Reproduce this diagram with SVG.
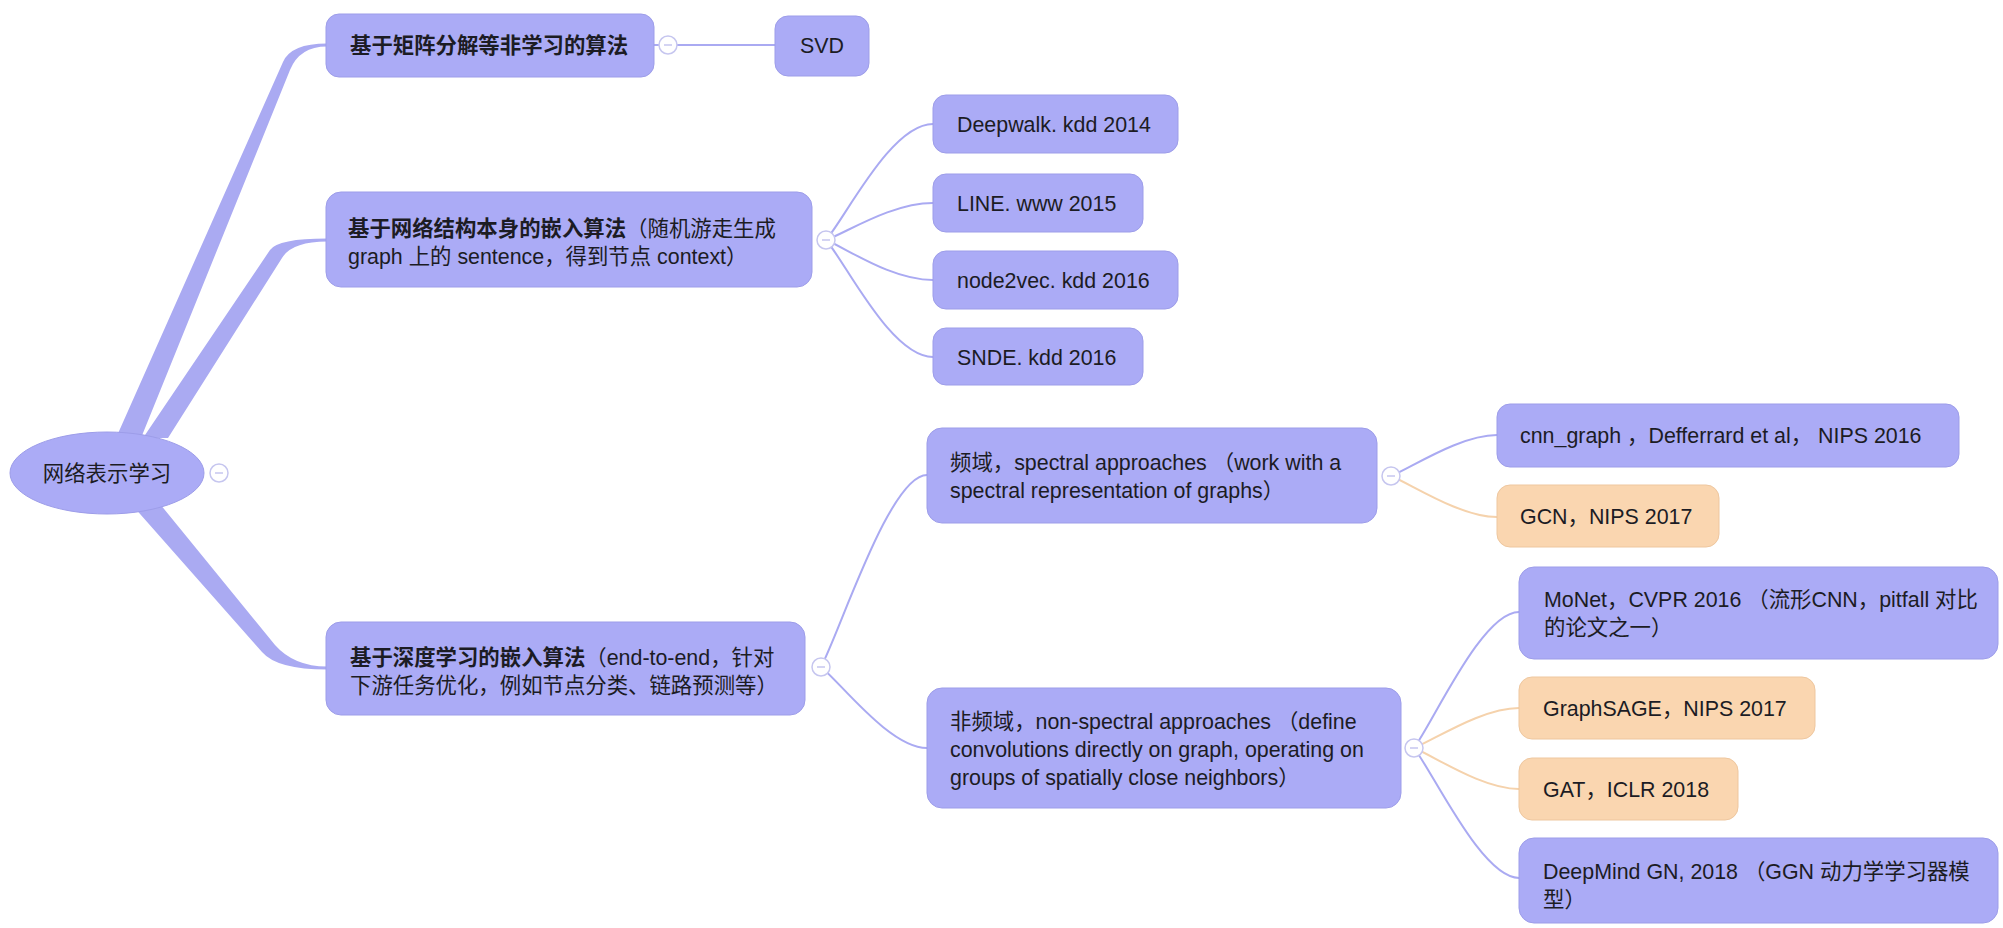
<svg xmlns="http://www.w3.org/2000/svg" width="2003" height="928" viewBox="0 0 2003 928">
<style>
.bg{fill:#ffffff}
.node{fill:#ABABF6;stroke:#9D9DE9;stroke-width:1}
.org{fill:#FAD6B0;stroke:#EEC79F;stroke-width:1}
.t{font-family:"Liberation Sans","Noto Sans CJK SC",sans-serif;font-size:21.4px;fill:#1c1c24}
.b{font-weight:bold}
.link{fill:none;stroke:#AAAAF2;stroke-width:2}
.link.o{stroke:#F5D2AC}
.trunk{fill:#AAAAF2}
.tg{fill:#ffffff;stroke:#C6C6EF;stroke-width:1.5}
.tgl{stroke:#C6C6EF;stroke-width:1.5}
</style>
<rect class="bg" x="0" y="0" width="2003" height="928"/>

<g id="connectors">
  <path class="trunk" d="M 116 438 L 283 62 Q 291 43.5 327 43.5 L 327 46.5 Q 299.5 46.5 290 70 L 141 438 Z"/>
  <path class="trunk" d="M 143 438 L 270 250 Q 278 238.5 327 238.5 L 327 241.5 Q 292 241.5 282 258 L 168 438 Z"/>
  <path class="trunk" d="M 133 506 L 262 652 Q 277 669.5 327 669.5 L 327 666.5 Q 294 666.5 275 645 L 160 504 Z"/>
  <path class="link" d="M 654 45 L 775 45"/>
  <path class="link" d="M 826 240 C 846 217, 891 124, 933 124"/>
  <path class="link" d="M 826 240 C 846 233, 891 203, 933 203"/>
  <path class="link" d="M 826 240 C 846 248, 891 280, 933 280"/>
  <path class="link" d="M 826 240 C 846 263, 891 357, 933 357"/>
  <path class="link" d="M 821 667 C 841 629, 890 475, 927 475"/>
  <path class="link" d="M 821 667 C 841 683, 890 748, 927 748"/>
  <path class="link" d="M 1391 476 C 1411 468, 1460 435, 1497 435"/>
  <path class="link o" d="M 1391 476 C 1411 484, 1460 517, 1497 517"/>
  <path class="link" d="M 1414 748 C 1434 721, 1482 612, 1519 612"/>
  <path class="link o" d="M 1414 748 C 1434 740, 1482 708, 1519 708"/>
  <path class="link o" d="M 1414 748 C 1434 756, 1482 789, 1519 789"/>
  <path class="link" d="M 1414 748 C 1434 774, 1482 878, 1519 878"/>
</g>

<g id="n-root">
  <ellipse class="node" cx="107" cy="473" rx="97" ry="41"/>
  <text class="t" x="107" y="481" text-anchor="middle">网络表示学习</text>
  <circle class="tg" cx="219" cy="473" r="9"/>
  <line class="tgl" x1="215" y1="473" x2="223" y2="473"/>
</g>

<g id="n-matrix">
  <rect class="node" x="326" y="14" width="328" height="63" rx="13"/>
  <text class="t b" x="350" y="53">基于矩阵分解等非学习的算法</text>
  <circle class="tg" cx="668" cy="45" r="9"/>
  <line class="tgl" x1="664" y1="45" x2="672" y2="45"/>
</g>

<g id="n-svd">
  <rect class="node" x="775" y="16" width="94" height="60" rx="13"/>
  <text class="t" x="822" y="53" text-anchor="middle">SVD</text>
</g>

<g id="n-walk">
  <rect class="node" x="326" y="192" width="486" height="95" rx="15"/>
  <text class="t" x="348" y="236"><tspan class="b">基于网络结构本身的嵌入算法</tspan>（随机游走生成</text>
  <text class="t" x="348" y="264">graph 上的 sentence，得到节点 context）</text>
  <circle class="tg" cx="826" cy="240" r="9"/>
  <line class="tgl" x1="822" y1="240" x2="830" y2="240"/>
</g>

<g id="n-deepwalk">
  <rect class="node" x="933" y="95" width="245" height="58" rx="13"/>
  <text class="t" x="957" y="132">Deepwalk. kdd 2014</text>
</g>
<g id="n-line">
  <rect class="node" x="933" y="174" width="210" height="58" rx="13"/>
  <text class="t" x="957" y="211">LINE. www 2015</text>
</g>
<g id="n-node2vec">
  <rect class="node" x="933" y="251" width="245" height="58" rx="13"/>
  <text class="t" x="957" y="288">node2vec. kdd 2016</text>
</g>
<g id="n-snde">
  <rect class="node" x="933" y="328" width="210" height="57" rx="13"/>
  <text class="t" x="957" y="365">SNDE. kdd 2016</text>
</g>

<g id="n-deep">
  <rect class="node" x="326" y="622" width="479" height="93" rx="15"/>
  <text class="t" x="350" y="665"><tspan class="b">基于深度学习的嵌入算法</tspan>（end-to-end，针对</text>
  <text class="t" x="350" y="693">下游任务优化，例如节点分类、链路预测等）</text>
  <circle class="tg" cx="821" cy="667" r="9"/>
  <line class="tgl" x1="817" y1="667" x2="825" y2="667"/>
</g>

<g id="n-spectral">
  <rect class="node" x="927" y="428" width="450" height="95" rx="15"/>
  <text class="t" x="950" y="470">频域，spectral approaches （work with a</text>
  <text class="t" x="950" y="498">spectral representation of graphs）</text>
  <circle class="tg" cx="1391" cy="476" r="9"/>
  <line class="tgl" x1="1387" y1="476" x2="1395" y2="476"/>
</g>

<g id="n-nonspectral">
  <rect class="node" x="927" y="688" width="474" height="120" rx="15"/>
  <text class="t" x="950" y="729">非频域，non-spectral approaches （define</text>
  <text class="t" x="950" y="757">convolutions directly on graph, operating on</text>
  <text class="t" x="950" y="785">groups of spatially close neighbors）</text>
  <circle class="tg" cx="1414" cy="748" r="9"/>
  <line class="tgl" x1="1410" y1="748" x2="1418" y2="748"/>
</g>

<g id="n-cnn">
  <rect class="node" x="1497" y="404" width="462" height="63" rx="13"/>
  <text class="t" x="1520" y="443">cnn_graph ，Defferrard et al， NIPS 2016</text>
</g>
<g id="n-gcn">
  <rect class="org" x="1497" y="485" width="222" height="62" rx="13"/>
  <text class="t" x="1520" y="524">GCN，NIPS 2017</text>
</g>
<g id="n-monet">
  <rect class="node" x="1519" y="567" width="479" height="92" rx="15"/>
  <text class="t" x="1544" y="607">MoNet，CVPR 2016 （流形CNN，pitfall 对比</text>
  <text class="t" x="1544" y="635">的论文之一）</text>
</g>
<g id="n-graphsage">
  <rect class="org" x="1519" y="677" width="296" height="62" rx="13"/>
  <text class="t" x="1543" y="716">GraphSAGE，NIPS 2017</text>
</g>
<g id="n-gat">
  <rect class="org" x="1519" y="758" width="219" height="62" rx="13"/>
  <text class="t" x="1543" y="797">GAT，ICLR 2018</text>
</g>
<g id="n-deepmind">
  <rect class="node" x="1519" y="838" width="479" height="85" rx="15"/>
  <text class="t" x="1543" y="879">DeepMind GN, 2018 （GGN 动力学学习器模</text>
  <text class="t" x="1543" y="907">型）</text>
</g>
</svg>
